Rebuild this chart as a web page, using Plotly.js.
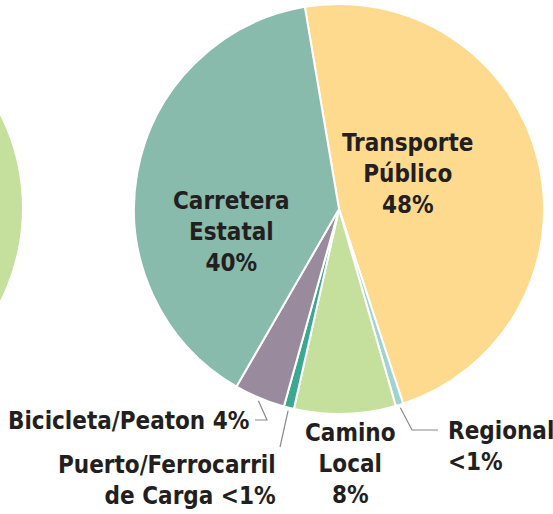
<!DOCTYPE html>
<html>
<head>
<meta charset="utf-8">
<script src="https://cdn.plot.ly/plotly-3.0.1.min.js"></script>
<style>html,body{margin:0;padding:0;background:#fff;}#chart{width:553px;height:514px;}</style>
</head>
<body>
<div id="chart"></div>
<script>
// ---- data ----
const categories = ['Transporte Público', 'Regional', 'Camino Local', 'Puerto/Ferrocarril de Carga', 'Bicicleta/Peaton', 'Carretera Estatal'];
const values = [47.6, 0.6, 8.0, 0.8, 4.0, 39.0];
const pctLabels = ['48%', '<1%', '8%', '<1%', '4%', '40%'];
const colors = ['#FEDA8E', '#9ED3CF', '#C5E09C', '#3BA88F', '#9A8A9E', '#88BBAC'];

// ---- layout helpers ----
const W = 553, H = 514;
const cx = 339, cy = 209, R = 205;
const rotation = -9.6;
const px = x => x / W;
const py = y => 1 - y / H;
const FONT = '"DejaVu Sans Condensed", "Liberation Sans Narrow", "Roboto", sans-serif';
const TXT = '#231F20';

// mid-angle (clockwise from 12 o'clock) of each slice, from the data
const total = values.reduce((a, b) => a + b, 0);
const midAngle = [];
let acc = 0;
values.forEach(v => { midAngle.push(rotation + (acc + v / 2) / total * 360); acc += v; });
function rim(i, extra) {
  const a = midAngle[i] * Math.PI / 180;
  return [cx + (R + extra) * Math.sin(a), cy - (R + extra) * Math.cos(a)];
}
function leader(i, pts) {
  const p0 = rim(i, 3);
  const all = [p0].concat(pts);
  return 'M ' + all.map(p => px(p[0]) + ' ' + py(p[1])).join(' L ');
}

const trace = {
  type: 'pie',
  labels: categories,
  values: values,
  sort: false,
  direction: 'clockwise',
  rotation: rotation,
  marker: { colors: colors, line: { color: '#ffffff', width: 2 } },
  textinfo: 'none',
  hoverinfo: 'label+percent',
  showlegend: false,
  domain: { x: [px(cx - R), px(cx + R)], y: [py(cy + R), py(cy - R)] }
};

const fnt = { family: FONT, size: 24, color: TXT, weight: 'bold' };
function ann(text, x, y, xanchor, align) {
  return { text: text, x: px(x), y: py(y), xref: 'paper', yref: 'paper', xanchor: xanchor, yanchor: 'top', align: align, showarrow: false, font: fnt };
}

const annotations = [
  ann('Transporte<br>Público<br>' + pctLabels[0], 407, 127, 'center', 'center'),
  ann('Carretera<br>Estatal<br>' + pctLabels[5], 231, 185, 'center', 'center'),
  ann('Bicicleta/Peaton ' + pctLabels[4], 251, 405, 'right', 'right'),
  ann('Puerto/Ferrocarril<br>de Carga ' + pctLabels[3], 278, 449, 'right', 'right'),
  ann('Camino<br>Local<br>' + pctLabels[2], 350, 417, 'center', 'center'),
  ann('Regional<br>' + pctLabels[1], 446, 415, 'left', 'left')
];

const lineStyle = { color: '#8a8a8a', width: 1.2 };
const shapes = [
  { type: 'circle', xref: 'paper', yref: 'paper', layer: 'below',
    x0: px(-392), x1: px(22), y0: py(415), y1: py(1),
    fillcolor: '#C5E09C', line: { width: 0 } },
  { type: 'path', xref: 'paper', yref: 'paper', layer: 'above', line: lineStyle,
    path: leader(1, [[412, 430], [438, 430]]) },
  { type: 'path', xref: 'paper', yref: 'paper', layer: 'above', line: lineStyle,
    path: leader(3, [[280, 447]]) },
  { type: 'path', xref: 'paper', yref: 'paper', layer: 'above', line: lineStyle,
    path: leader(4, [[267, 420], [255, 420]]) }
];

const layout = {
  width: W, height: H,
  margin: { l: 0, r: 0, t: 0, b: 0 },
  paper_bgcolor: '#ffffff',
  plot_bgcolor: '#ffffff',
  showlegend: false,
  annotations: annotations,
  shapes: shapes
};

Plotly.newPlot('chart', [trace], layout, { displayModeBar: false, staticPlot: true });
</script>
</body>
</html>
